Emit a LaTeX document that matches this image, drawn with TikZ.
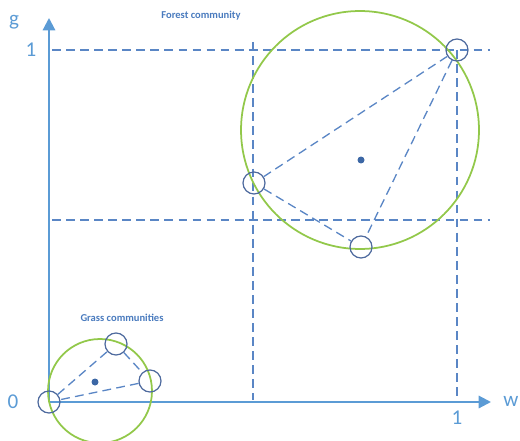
\documentclass[tikz,border=0pt]{standalone}
\usepackage{fontspec}
\setmainfont{Carlito}
\usetikzlibrary{arrows.meta}
\definecolor{axisblue}{HTML}{5B9BD5}
\definecolor{gridblue}{HTML}{5A86C5}
\definecolor{ringblue}{HTML}{4E6A9E}
\definecolor{dotblue}{HTML}{3C67A5}
\definecolor{textblue}{HTML}{4A7BBE}
\definecolor{hullgreen}{HTML}{92C84A}
\begin{document}
\begin{tikzpicture}[x=0.02cm, y=0.02cm, site/.style={circle, draw=ringblue, minimum size=0.44cm, inner sep=0pt, line width=0.7pt}, centre/.style={circle, fill=dotblue, minimum size=0.14cm, inner sep=0pt}, label/.style={text=axisblue, font=\fontsize{12}{12}\selectfont}, caption/.style={text=textblue, font=\fontsize{6}{6}\selectfont\bfseries}, grid/.style={gridblue, dashed, dash pattern=on 5pt off 3pt, line width=0.75pt}, link/.style={gridblue, dashed, dash pattern=on 5pt off 3pt, line width=0.75pt}, hull/.style={hullgreen, line width=1pt}]

		\useasboundingbox (0,0) rectangle (520,440);

		% axes
		\coordinate (o) at (49,38);
		\coordinate (gtip) at (49,422);
		\coordinate (wtip) at (491,38);
		\draw[axisblue, line width=1.2pt, -{Triangle[length=7pt, width=7pt]}] (o) -- (gtip);
		\draw[axisblue, line width=1.2pt, -{Triangle[length=7pt, width=7pt]}] (o) -- (wtip);

		\node[label] (g) at (14,418) {g};
		\node[label] (w) at (511,39) {w};
		\node[label] (zero) at (13,38) {0};
		\node[label] (gone) at (31,390) {1};
		\node[label] (wone) at (457,22) {1};

		% grid
		\coordinate (h1a) at (52,390);
		\coordinate (h1b) at (490,390);
		\coordinate (h2a) at (52,220);
		\coordinate (h2b) at (490,220);
		\coordinate (v1a) at (253,398);
		\coordinate (v1b) at (253,40);
		\coordinate (v2a) at (457,390);
		\coordinate (v2b) at (457,40);
		\draw[grid] (h1a) -- (h1b);
		\draw[grid] (h2a) -- (h2b);
		\draw[grid] (v1a) -- (v1b);
		\draw[grid] (v2a) -- (v2b);

		% forest
		\draw[hull] (360,310) circle (2.38cm);
		\node[site] (f1) at (457,390) {};
		\node[site] (f2) at (254,257) {};
		\node[site] (f3) at (361,193) {};
		\node[centre] (fc) at (361,280) {};

		\draw[link] (f1) -- (f2);
		\draw[link] (f1) -- (f3);
		\draw[link] (f2) -- (f3);

		\node[caption] (forest) at (201,424) {Forest community};

		% grass
		\draw[hull] (100,49) circle (1.04cm);
		\node[site] (g0) at (49,38) {};
		\node[site] (g1) at (116,96) {};
		\node[site] (g2) at (150,59) {};
		\node[centre] (gc) at (95,58) {};

		\draw[link] (g0) -- (g1);
		\draw[link] (g1) -- (g2);
		\draw[link] (g2) -- (g0);

		\node[caption] (grass) at (122,122) {Grass communities};

	\end{tikzpicture}
\end{document}
